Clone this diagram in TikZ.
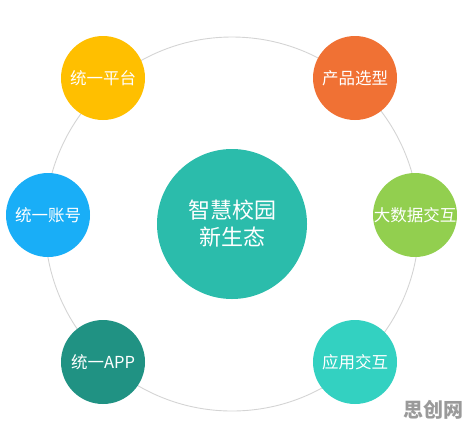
\documentclass[tikz,border=0pt]{standalone}
\usepackage{fontspec}
\usepackage{xcolor}
\usepackage{tikz}
\setmainfont{Noto Sans CJK SC}

\definecolor{ringgray}{HTML}{D4D4D4}
\definecolor{hubteal}{HTML}{2BBCAB}
\definecolor{platyellow}{HTML}{FFBF00}
\definecolor{prodorange}{HTML}{F07134}
\definecolor{acctblue}{HTML}{19AEF7}
\definecolor{datagreen}{HTML}{92CF4F}
\definecolor{appteal}{HTML}{209283}
\definecolor{useteal}{HTML}{33D1C1}
\definecolor{markgray}{HTML}{9A9A9A}

\begin{document}
\begin{tikzpicture}[x=1pt, y=-1pt]
    % Styles
    \tikzstyle{hub} = [circle, minimum size=150pt, inner sep=0pt, fill=hubteal, text=white, font=\fontsize{22}{27}\selectfont, align=center]
    \tikzstyle{ball} = [circle, minimum size=84pt, inner sep=0pt, text=white, font=\fontsize{16.5}{20}\selectfont]
    \tikzstyle{ring} = [draw=ringgray, line width=0.9pt]

    \useasboundingbox (0,0) rectangle (470,429);

    % Ring
    \draw[ring] (232,224) circle (187);

    % Nodes
    \node[hub] (campus) at (232,224) {智慧校园\\新生态};
    \node[ball, fill=platyellow] (platform) at (103,78) {统一平台};
    \node[ball, fill=prodorange] (product) at (355,78) {产品选型};
    \node[ball, fill=acctblue] (account) at (48,215) {统一账号};
    \node[ball, fill=datagreen] (bigdata) at (415,215) {大数据交互};
    \node[ball, fill=appteal] (app) at (103,362) {统一APP};
    \node[ball, fill=useteal] (appuse) at (355,362) {应用交互};

    % Watermark
    \node[text=markgray, font=\bfseries\fontsize{20}{24}\selectfont] (mark) at (433,410) {思创网};
\end{tikzpicture}
\end{document}
